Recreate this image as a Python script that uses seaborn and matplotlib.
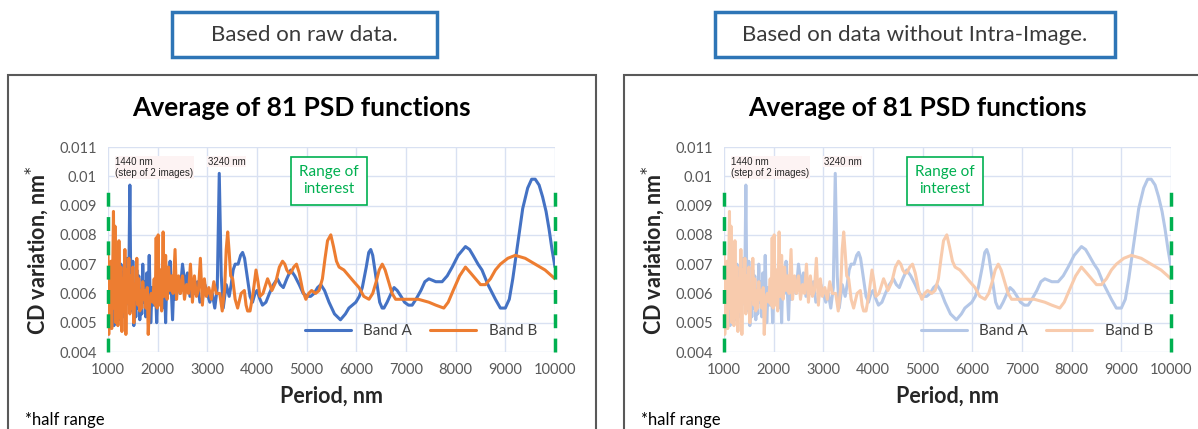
import matplotlib
matplotlib.use("Agg")
import matplotlib.pyplot as plt
import matplotlib.patches as mpatches
from matplotlib.ticker import FuncFormatter
import pandas as pd
import seaborn as sns

# Band A (blue) - period in nm, CD variation in nm
band_a_period = [
    1000, 1020, 1040, 1060, 1080, 1100, 1120, 1140, 1160, 1180, 1200, 1220, 1240,
    1260, 1280, 1300, 1320, 1340, 1360, 1380, 1400, 1420, 1440, 1460, 1480, 1500,
    1520, 1540, 1560, 1580, 1600, 1620, 1640, 1660, 1680, 1700, 1720, 1740, 1760,
    1780, 1800, 1830, 1860, 1890, 1920, 1950, 1980, 2010, 2040, 2070, 2100, 2130,
    2160, 2190, 2220, 2250, 2300, 2330, 2360, 2400, 2450, 2500, 2550, 2600, 2650,
    2700, 2750, 2800, 2850, 2900, 2950, 3000, 3050, 3100, 3150, 3200, 3240, 3280,
    3320, 3380,
    3440, 3480, 3520, 3560, 3620, 3670, 3710, 3750, 3800, 3860, 3910, 3960, 4000,
    4060, 4110, 4180, 4250, 4330, 4410, 4470, 4530, 4600, 4680, 4760, 4850, 4930,
    5010, 5080, 5150, 5220, 5285, 5360, 5450, 5560, 5680, 5780, 5850, 5920, 5990,
    6060, 6120, 6200, 6250, 6290, 6330, 6400, 6470, 6520, 6556, 6620, 6700, 6760,
    6823, 6900, 6970, 7050, 7124, 7200, 7300, 7380, 7460, 7600, 7727, 7830, 7930,
    8050, 8197, 8280, 8350, 8450, 8530, 8650, 8800, 8900, 9000, 9080, 9150, 9267,
    9350, 9450, 9530, 9602, 9680, 9750, 9820, 9880, 9940, 10000,
]
band_a_value = [
    0.0050, 0.0068, 0.0049, 0.0066, 0.0052, 0.0071, 0.0049, 0.0062, 0.0050, 0.0072,
    0.0053, 0.0065, 0.0051, 0.0070, 0.0055, 0.0067, 0.0052, 0.0069, 0.0056, 0.0072,
    0.0058, 0.0066, 0.0097, 0.0060, 0.0054, 0.0071, 0.0049, 0.0063, 0.0052, 0.0068,
    0.0055, 0.0066, 0.0051, 0.0061, 0.0053, 0.0070, 0.0057, 0.0064, 0.0052, 0.0067,
    0.0055, 0.0073, 0.0050, 0.0062, 0.0056, 0.0065, 0.0050, 0.0064, 0.0058, 0.0068,
    0.0055, 0.0070, 0.0050, 0.0069, 0.0060, 0.0071, 0.0051, 0.0066, 0.0058, 0.0065,
    0.0060, 0.0070, 0.0063, 0.0067, 0.0059, 0.0062, 0.0060, 0.0064, 0.0057, 0.0058,
    0.0063, 0.0060, 0.0057, 0.0060, 0.0055, 0.0062, 0.0101, 0.0066, 0.0055, 0.0063,
    0.0059, 0.0063, 0.0068, 0.0070, 0.0070, 0.0073, 0.0074, 0.0072, 0.0066, 0.0059,
    0.0057, 0.0060, 0.0061, 0.0058, 0.0056, 0.0057, 0.0060, 0.0063, 0.0065, 0.0063,
    0.0062, 0.0065, 0.0068, 0.0066, 0.0063, 0.0060, 0.0059, 0.0059, 0.0060, 0.0062,
    0.0063, 0.0061, 0.0057, 0.0053, 0.0051, 0.0053, 0.0055, 0.0056, 0.0057, 0.0059,
    0.0062, 0.0069, 0.0074, 0.0075, 0.0073, 0.0065, 0.0057, 0.0055, 0.0055, 0.0057,
    0.0060, 0.0062, 0.0061, 0.0059, 0.0057, 0.0056, 0.0056, 0.0058, 0.0061, 0.0064,
    0.0065, 0.0064, 0.0064, 0.0066, 0.0069, 0.0073, 0.0076, 0.0075, 0.0073, 0.0070,
    0.0068, 0.0063, 0.0058, 0.0055, 0.0055, 0.0058, 0.0065, 0.0079, 0.0089, 0.0096,
    0.0099, 0.0099, 0.0097, 0.0093, 0.0088, 0.0082, 0.0075, 0.0069,
]

# Band B (orange)
band_b_period = [
    1000, 1015, 1030, 1045, 1060, 1075, 1090, 1110, 1125, 1140, 1160, 1180, 1200,
    1220, 1240, 1260, 1280, 1300, 1320, 1340, 1360, 1380, 1400, 1420, 1440, 1460,
    1480, 1500, 1520, 1540, 1560, 1580, 1600, 1620, 1640, 1660, 1680, 1700, 1720,
    1740, 1760, 1790, 1810, 1840, 1870, 1900, 1930, 1950, 1970, 1990, 2010, 2030,
    2060, 2080, 2110, 2130, 2160, 2190, 2220, 2250, 2280, 2310, 2350, 2380, 2420,
    2460, 2500, 2540, 2580, 2620, 2660, 2700, 2740, 2780, 2820, 2860, 2900, 2940,
    2980, 3030, 3080, 3130, 3180, 3250,
    3300, 3350, 3380, 3410, 3440, 3470, 3510, 3560, 3610, 3680, 3745, 3780, 3811,
    3860, 3920, 3980, 4020, 4060, 4120, 4213, 4260, 4300, 4380, 4450, 4514, 4560,
    4600, 4640, 4680, 4740, 4795, 4850, 4920, 4984, 5040, 5100, 5180, 5250, 5317,
    5370, 5420, 5486, 5540, 5600, 5653, 5750, 5850, 5950, 6054, 6150, 6255, 6330,
    6400, 6460, 6522, 6580, 6650, 6720, 6791, 6900, 7058, 7250, 7460, 7600, 7761,
    7850, 7950, 8080, 8197, 8300, 8400, 8500, 8598, 8700, 8800, 8900, 9050, 9200,
    9400, 9602, 9800, 10000,
]
band_b_value = [
    0.0076, 0.0046, 0.0067, 0.0052, 0.0071, 0.0048, 0.0061, 0.0088, 0.0055, 0.0083,
    0.0050, 0.0074, 0.0049, 0.0078, 0.0052, 0.0069, 0.0047, 0.0065, 0.0054, 0.0075,
    0.0046, 0.0068, 0.0057, 0.0072, 0.0053, 0.0066, 0.0055, 0.0069, 0.0050, 0.0063,
    0.0058, 0.0072, 0.0056, 0.0065, 0.0054, 0.0061, 0.0055, 0.0064, 0.0058, 0.0061,
    0.0055, 0.0062, 0.0046, 0.0058, 0.0060, 0.0057, 0.0065, 0.0056, 0.0079, 0.0055,
    0.0080, 0.0056, 0.0068, 0.0054, 0.0081, 0.0059, 0.0073, 0.0058, 0.0069, 0.0061,
    0.0066, 0.0060, 0.0075, 0.0058, 0.0066, 0.0060, 0.0066, 0.0058, 0.0063, 0.0060,
    0.0070, 0.0057, 0.0066, 0.0059, 0.0061, 0.0072, 0.0056, 0.0065, 0.0059, 0.0062,
    0.0058, 0.0064, 0.0060, 0.0060,
    0.0054, 0.0062, 0.0075, 0.0081, 0.0074, 0.0066, 0.0065, 0.0058, 0.0055, 0.0060,
    0.0061, 0.0056, 0.0054, 0.0054, 0.0060, 0.0068, 0.0064, 0.0059, 0.0060, 0.0065,
    0.0063, 0.0061, 0.0064, 0.0069, 0.0071, 0.0070, 0.0068, 0.0067, 0.0067, 0.0069,
    0.0070, 0.0067, 0.0061, 0.0058, 0.0060, 0.0061, 0.0060, 0.0061, 0.0065, 0.0072,
    0.0078, 0.0080, 0.0076, 0.0071, 0.0069, 0.0068, 0.0066, 0.0064, 0.0062, 0.0059,
    0.0058, 0.0060, 0.0064, 0.0068, 0.0070, 0.0068, 0.0064, 0.0060, 0.0058, 0.0058,
    0.0058, 0.0058, 0.0057, 0.0056, 0.0055, 0.0057, 0.0061, 0.0066, 0.0069, 0.0067,
    0.0065, 0.0063, 0.0063, 0.0065, 0.0068, 0.0070, 0.0072, 0.0073, 0.0072, 0.0070,
    0.0068, 0.0065,
]

headers = ["Based on raw data.", "Based on data without Intra-Image."]
chart_title = "Average of 81 PSD functions"
x_ticks = list(range(1000, 10001, 1000))
y_ticks = [0.004, 0.005, 0.006, 0.007, 0.008, 0.009, 0.01, 0.011]

sns.set_theme(style="white")
plt.rcParams["font.family"] = ["Lato", "DejaVu Sans"]

df_a = pd.DataFrame({"period": band_a_period, "value": band_a_value})
df_b = pd.DataFrame({"period": band_b_period, "value": band_b_value})

fig = plt.figure(figsize=(11.98, 4.29), dpi=100)

panels = [
    # (panel offset px, header box x0, header box width, colours)
    (0, 172, 265, "#4472C4", "#ED7D31"),
    (616, 715, 400, "#B4C7E7", "#F8CBAD"),
]
W, H = 1198.0, 429.0
green = "#00B050"
grid_c = "#D9E1F2"
tick_c = "#595959"

for (dx, hx, hw, col_a, col_b), header in zip(panels, headers):
    # header box
    fig.patches.append(mpatches.Rectangle(
        (hx / W, 1 - 57 / H), hw / W, 45 / H, transform=fig.transFigure,
        fill=False, edgecolor="#2E75B6", linewidth=2.5))
    fig.text((hx + hw / 2) / W, 1 - 35 / H, header, ha="center", va="center",
             fontsize=16, color="#3A3A3A")
    # outer chart frame
    fig.patches.append(mpatches.Rectangle(
        ((8 + dx) / W, -0.05), 588 / W, 1 - 75 / H + 0.05,
        transform=fig.transFigure, fill=False, edgecolor="#595959",
        linewidth=1.5))
    fig.text((301 + dx) / W, 1 - 108 / H, chart_title, ha="center",
             va="center", fontsize=19, fontweight="bold", color="black")
    fig.text((25 + dx) / W, 1 - 420 / H, "*half range", ha="left",
             va="center", fontsize=12, color="black")

    ax = fig.add_axes([(108 + dx) / W, 77 / H, 447 / W, 205 / H])
    sns.lineplot(data=df_a, x="period", y="value", ax=ax, color=col_a,
                 linewidth=2.2, label="Band A", estimator=None, sort=False)
    sns.lineplot(data=df_b, x="period", y="value", ax=ax, color=col_b,
                 linewidth=2.2, label="Band B", estimator=None, sort=False)

    ax.set_xlim(1000, 10000)
    ax.set_ylim(0.004, 0.011)
    ax.set_xticks(x_ticks)
    ax.set_yticks(y_ticks)
    ax.yaxis.set_major_formatter(FuncFormatter(lambda v, p: f"{round(v, 3):g}"))
    ax.grid(True, color=grid_c, linewidth=1)
    for s in ax.spines.values():
        s.set_visible(False)
    ax.tick_params(length=0, labelsize=10.5, colors=tick_c, pad=8)
    ax.set_xlabel("Period, nm", fontsize=15.5, fontweight="bold", labelpad=6)
    ax.set_ylabel(r"CD variation, nm$^{*}$", fontsize=15.5, fontweight="bold",
                  labelpad=6)

    # range-of-interest limits
    for xv in (1000, 10000):
        ax.plot([xv, xv], [0.004, 0.0096], color=green, linewidth=2.5,
                linestyle=(0, (4, 3)), clip_on=False, zorder=5)
    ax.text(5450, 0.00985, "Range of\ninterest", ha="center", va="center",
            fontsize=11, color=green, linespacing=1.3,
            bbox=dict(boxstyle="square,pad=0.55", facecolor="white",
                      edgecolor=green, linewidth=1.2))

    ax.text(1150, 0.0103, "1440 nm\n(step of 2 images)", ha="left",
            va="center", fontsize=7, family=["Liberation Sans", "DejaVu Sans"],
            color="#262626", bbox=dict(facecolor="#FDF3F3", edgecolor="none",
                                       pad=0.5))
    ax.text(3010, 0.0105, "3240 nm", ha="left", va="center", fontsize=7,
            family=["Liberation Sans", "DejaVu Sans"], color="#262626",
            bbox=dict(facecolor="#FDF3F3", edgecolor="none", pad=0.5))

    leg = ax.legend(loc="lower right", frameon=False, ncol=2, fontsize=11,
                    handlelength=3, columnspacing=1.2,
                    bbox_to_anchor=(0.99, 0.0))
    for t in leg.get_texts():
        t.set_color("#404040")

fig.savefig("out.png", dpi=100)
